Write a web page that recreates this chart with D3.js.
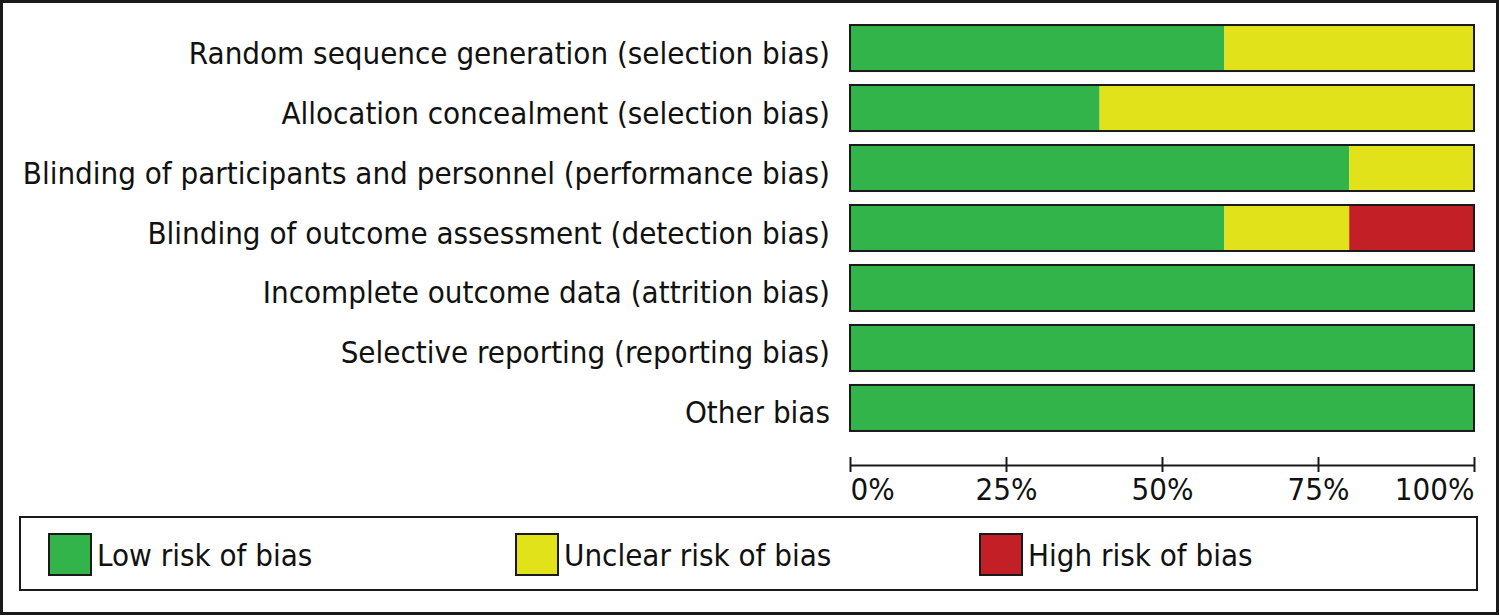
<!DOCTYPE html>
<html>
<head>
<meta charset="utf-8">
<script src="https://cdn.jsdelivr.net/npm/d3@7"></script>
<style>
  body { margin: 0; background: #fff; }
  text { font-family: "DejaVu Sans Condensed", "DejaVu Sans", sans-serif; fill: #111; }
</style>
</head>
<body>
<div id="viz"></div>
<script>
// ====================
// DATA
// ====================
const domains = [
  'Random sequence generation (selection bias)',
  'Allocation concealment (selection bias)',
  'Blinding of participants and personnel (performance bias)',
  'Blinding of outcome assessment (detection bias)',
  'Incomplete outcome data (attrition bias)',
  'Selective reporting (reporting bias)',
  'Other bias'
];
const lowRisk = [60, 40, 80, 60, 100, 100, 100];
const unclearRisk = [40, 60, 20, 20, 0, 0, 0];
const highRisk = [0, 0, 0, 20, 0, 0, 0];
const riskLabels = ['Low risk of bias', 'Unclear risk of bias', 'High risk of bias'];
const riskColors = ['#33b44a', '#e1e21a', '#c22026'];
const tickValues = [0, 25, 50, 75, 100];

// ====================
// SETUP
// ====================
const width = 1500;
const height = 616;
const fontSize = 31;

const svg = d3.select('#viz').append('svg')
  .attr('width', width)
  .attr('height', height);

// outer frame
svg.append('rect')
  .attr('x', 1.5).attr('y', 1.5)
  .attr('width', width - 4).attr('height', height - 4)
  .attr('fill', 'none').attr('stroke', '#1a1a1a').attr('stroke-width', 3);

const x = d3.scaleLinear().domain([0, 100]).range([850, 1474]);
const y = d3.scaleBand().domain(domains).range([18, 438]).paddingInner(0.233).paddingOuter(0.117);

// stack the series
const rows = domains.map((d, i) => ({ domain: d, low: lowRisk[i], unclear: unclearRisk[i], high: highRisk[i] }));
const stack = d3.stack().keys(['low', 'unclear', 'high']);
const series = stack(rows);

const g = svg.append('g');

g.selectAll('g.series')
  .data(series)
  .join('g')
  .attr('class', 'series')
  .attr('fill', (d, i) => riskColors[i])
  .selectAll('rect')
  .data(d => d)
  .join('rect')
  .attr('x', d => x(d[0]))
  .attr('y', d => y(d.data.domain))
  .attr('width', d => x(d[1]) - x(d[0]))
  .attr('height', y.bandwidth());

// bar outlines
g.selectAll('rect.outline')
  .data(domains)
  .join('rect')
  .attr('class', 'outline')
  .attr('x', x(0))
  .attr('y', d => y(d))
  .attr('width', x(100) - x(0))
  .attr('height', y.bandwidth())
  .attr('fill', 'none')
  .attr('stroke', '#1a1a1a')
  .attr('stroke-width', 2);

// category labels
g.selectAll('text.label')
  .data(domains)
  .join('text')
  .attr('class', 'label')
  .attr('x', 830)
  .attr('y', d => y(d) + y.bandwidth() / 2)
  .attr('dy', '0.5em')
  .attr('text-anchor', 'end')
  .style('font-size', fontSize + 'px')
  .text(d => d);

// ====================
// AXIS
// ====================
const axisY = 465;
const axis = d3.axisBottom(x)
  .tickValues(tickValues)
  .tickFormat(d => d + '%')
  .tickSize(7)
  .tickSizeOuter(0);

const axisG = svg.append('g')
  .attr('transform', `translate(0,${axisY})`)
  .call(axis);

axisG.select('.domain').attr('stroke', '#1a1a1a').attr('stroke-width', 2);
axisG.selectAll('.tick line')
  .attr('y1', -8).attr('y2', 7)
  .attr('stroke', '#1a1a1a').attr('stroke-width', 2);
axisG.selectAll('.tick text')
  .attr('y', 35)
  .attr('dy', 0)
  .style('font-size', fontSize + 'px')
  .style('font-family', '"DejaVu Sans Condensed", "DejaVu Sans", sans-serif')
  .attr('fill', '#111')
  .attr('text-anchor', d => d === 0 ? 'start' : (d === 100 ? 'end' : 'middle'));

// ====================
// LEGEND
// ====================
svg.append('rect')
  .attr('x', 20).attr('y', 517)
  .attr('width', 1457).attr('height', 73)
  .attr('fill', 'none').attr('stroke', '#1a1a1a').attr('stroke-width', 2);

const legendX = [49, 516, 980];
const legend = svg.selectAll('g.legend')
  .data(riskLabels)
  .join('g')
  .attr('class', 'legend')
  .attr('transform', (d, i) => `translate(${legendX[i]},534)`);

legend.append('rect')
  .attr('width', 42).attr('height', 41)
  .attr('fill', (d, i) => riskColors[i])
  .attr('stroke', '#1a1a1a').attr('stroke-width', 2);

legend.append('text')
  .attr('x', 48)
  .attr('y', 20)
  .attr('dy', '0.4em')
  .style('font-size', fontSize + 'px')
  .text(d => d);
</script>
</body>
</html>
